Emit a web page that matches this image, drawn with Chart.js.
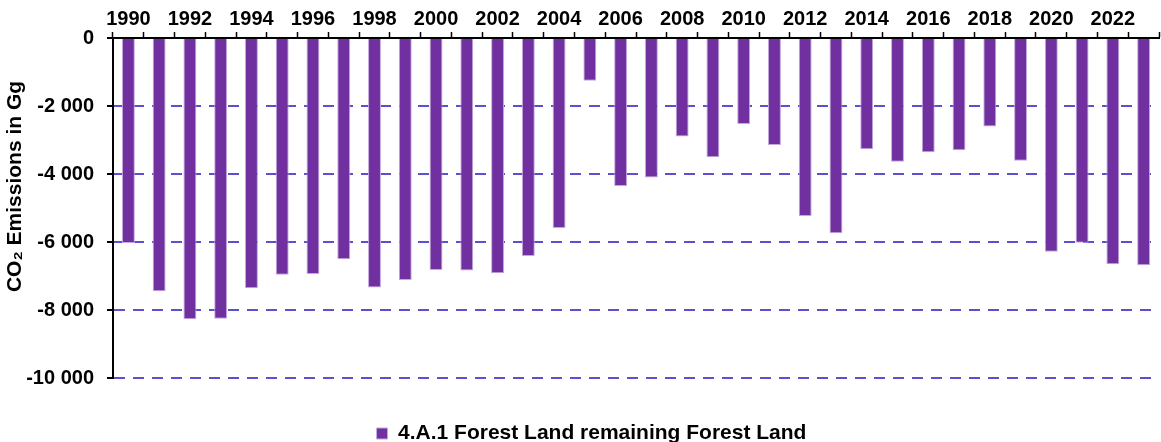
<!DOCTYPE html>
<html>
<head>
<meta charset="utf-8">
<script src="https://cdn.jsdelivr.net/npm/chart.js@4"></script>
<style>html,body{margin:0;padding:0;background:#fff;overflow:hidden}</style>
</head>
<body>
<canvas id="c" width="1161" height="442"></canvas>
<script>
const years = ['1990','1991','1992','1993','1994','1995','1996','1997','1998','1999',
               '2000','2001','2002','2003','2004','2005','2006','2007','2008','2009',
               '2010','2011','2012','2013','2014','2015','2016','2017','2018','2019',
               '2020','2021','2022','2023'];
const emissions = [-6030,-7450,-8270,-8260,-7360,-6960,-6940,-6510,-7340,-7120,
                   -6820,-6840,-6920,-6410,-5590,-1255,-4350,-4100,-2900,-3510,
                   -2530,-3150,-5235,-5745,-3275,-3640,-3360,-3305,-2600,-3610,
                   -6285,-6020,-6655,-6685];
const yTicks = [0,-2000,-4000,-6000,-8000,-10000];
const seriesLabel = '4.A.1 Forest Land remaining Forest Land';
const yTitle = 'CO\u2082 Emissions in Gg';

function fmt(v){
  if (v === 0) return '0';
  const s = Math.abs(v).toString().replace(/\B(?=(\d{3})+(?!\d))/g, ' ');
  return (v < 0 ? '-' : '') + s;
}

const FONT = "'Liberation Sans', Arial, sans-serif";
Chart.defaults.font.family = FONT;
Chart.defaults.font.weight = 'bold';
Chart.defaults.color = '#000';

const yTitlePlugin = {
  id: 'yTitlePlugin',
  afterDraw(chart) {
    const ctx = chart.ctx;
    const area = chart.chartArea;
    ctx.save();
    ctx.font = 'bold 21px ' + FONT;
    ctx.fillStyle = '#000';
    ctx.textAlign = 'center';
    ctx.textBaseline = 'middle';
    ctx.translate(15.5, (area.top + area.bottom) / 2 - 21.5);
    ctx.rotate(-Math.PI / 2);
    ctx.fillText(yTitle, 0, 0);
    ctx.restore();
  }
};

new Chart(document.getElementById('c'), {
  type: 'bar',
  data: {
    labels: years,
    datasets: [{
      label: seriesLabel,
      data: emissions,
      backgroundColor: '#7030a0',
      borderColor: '#c4a8de',
      borderWidth: 1,
      barPercentage: 0.42,
      categoryPercentage: 1
    }]
  },
  plugins: [yTitlePlugin],
  options: {
    responsive: false,
    devicePixelRatio: 1,
    animation: false,
    layout: { padding: { left: 24, right: 2, top: 0, bottom: -12 } },
    plugins: {
      tooltip: { enabled: false },
      legend: {
        position: 'bottom',
        title: { display: true, text: ' ', font: { size: 10 }, padding: { top: 33, bottom: 0 } },
        labels: {
          boxWidth: 11, boxHeight: 11,
          font: { size: 21, weight: 'bold' },
          color: '#000',
          padding: 0
        }
      }
    },
    scales: {
      x: {
        position: 'top',
        offset: true,
        grid: {
          display: true, offset: true, drawOnChartArea: false,
          drawTicks: true, tickLength: 6, tickColor: '#000', tickWidth: 1.5
        },
        border: { display: true, color: '#000', width: 2 },
        ticks: {
          autoSkip: false, maxRotation: 0, minRotation: 0, padding: 1,
          font: { size: 20, weight: 'bold' }, color: '#000',
          callback: function(val, i){ return i % 2 === 0 ? this.getLabelForValue(val) : ''; }
        },
        afterFit: s => { s.height = 38; }
      },
      y: {
        min: -10000, max: 0,
        afterBuildTicks: s => { s.ticks = yTicks.map(v => ({ value: v })); },
        grid: {
          color: '#5b50d0', lineWidth: 2,
          tickColor: '#000', tickLength: 6, tickWidth: 2, tickBorderDash: []
        },
        border: { display: true, color: '#000', width: 2, dash: [11, 8] },
        ticks: {
          padding: 13, font: { size: 20, weight: 'bold' }, color: '#000',
          callback: v => fmt(v)
        },
        title: { display: false },
        afterFit: s => { s.width = 89; }
      }
    }
  }
});
</script>
</body>
</html>
